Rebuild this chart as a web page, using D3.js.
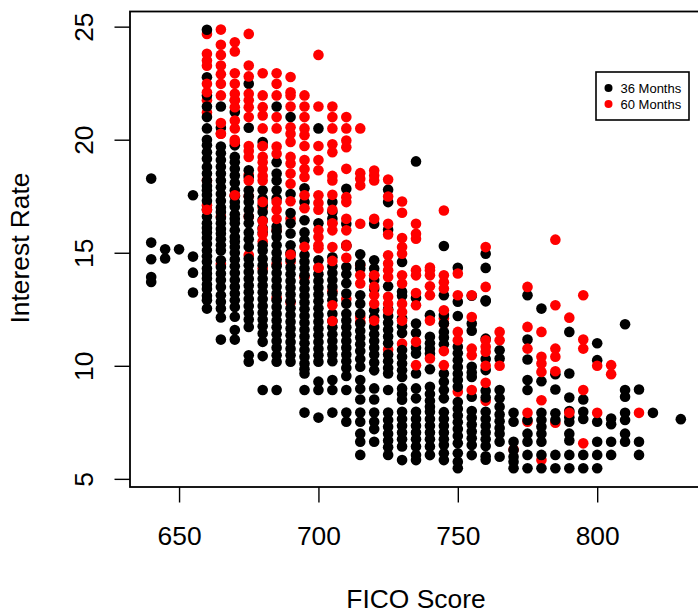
<!DOCTYPE html>
<html>
<head>
<meta charset="utf-8">
<script src="https://cdn.jsdelivr.net/npm/d3@7"></script>
<style>
	html, body { margin: 0; padding: 0; background: #fff; overflow: hidden; }
	text { font-family: "Liberation Sans", Arial, sans-serif; fill: #000; }
</style>
</head>
<body>
<div id="chart"></div>
<script>
// FICO score values, one per column of dots
const ficoScores = [640, 645, 650, 655, 660, 665, 670, 675, 680, 685, 690, 695, 700, 705, 710, 715, 720, 725, 730, 735, 740, 745, 750, 755, 760, 765, 770, 775, 780, 785, 790, 795, 800, 805, 810, 815, 820, 830]

// Interest rates of the 36 month loans, per FICO column
const rates36 = [
	[18.28, 15.45, 14.71, 13.93, 13.71],
	[15.15, 14.75],
	[15.15],
	[17.54, 14.83, 14.12, 13.24],
	[24.86, 22.76, 21.96, 21.47, 21.0, 20.5, 20.0, 19.75, 19.45, 19.16, 18.79, 18.5, 18.2, 17.95, 17.76, 17.55, 17.3, 16.9, 16.6, 16.3, 16.1, 15.9, 15.65, 15.4, 15.1, 14.85, 14.6, 14.3, 14.08, 13.86, 13.6, 13.4, 13.1, 12.9, 12.53],
	[21.47, 20.53, 19.7, 19.4, 19.1, 18.8, 18.5, 18.2, 17.9, 17.6, 17.3, 17.0, 16.8, 16.55, 16.3, 16.05, 15.85, 15.6, 15.33, 15.1, 14.67, 14.37, 14.08, 13.79, 13.49, 13.12, 12.83, 12.53, 12.14, 11.16],
	[21.22, 19.75, 19.24, 19.0, 18.72, 18.42, 18.1, 17.76, 17.5, 17.25, 17.03, 16.7, 16.5, 16.3, 16.0, 15.7, 15.5, 15.26, 15.0, 14.7, 14.4, 14.1, 13.8, 13.5, 13.2, 12.9, 12.6, 12.17, 11.58, 11.16],
	[22.47, 20.53, 18.65, 18.35, 17.76, 17.5, 17.25, 16.9, 16.6, 16.3, 15.9, 15.6, 15.26, 14.74, 14.45, 14.15, 13.85, 13.55, 13.25, 12.95, 12.65, 12.35, 12.05, 11.72, 10.47, 10.18],
	[19.9, 17.76, 17.4, 17.1, 16.8, 16.45, 16.1, 15.9, 15.33, 15.1, 14.74, 14.45, 14.15, 13.85, 13.55, 13.25, 12.95, 12.65, 12.35, 12.05, 11.75, 11.43, 11.06, 10.43, 8.93],
	[21.47, 19.0, 18.5, 18.2, 17.76, 17.4, 16.15, 15.95, 15.7, 15.33, 15.0, 14.7, 14.4, 14.1, 13.8, 13.5, 13.2, 12.9, 12.6, 12.3, 12.0, 11.7, 11.4, 11.1, 10.8, 10.47, 10.18, 8.93],
	[21.0, 17.6, 16.76, 16.3, 15.85, 15.33, 15.0, 14.7, 14.35, 14.05, 13.75, 13.45, 13.15, 12.85, 12.55, 12.25, 11.95, 11.65, 11.35, 11.05, 10.75, 10.47, 10.18],
	[17.85, 17.25, 16.44, 15.9, 15.55, 14.9, 14.6, 14.3, 14.0, 13.7, 13.4, 13.1, 12.8, 12.5, 12.2, 11.9, 11.6, 11.3, 11.0, 10.7, 10.4, 10.1, 9.85, 9.66, 8.93, 7.93],
	[20.5, 16.3, 14.67, 14.05, 13.75, 13.45, 13.15, 12.85, 12.55, 12.25, 11.95, 11.65, 11.35, 11.05, 10.75, 10.47, 10.18, 9.3, 8.93, 7.71],
	[17.24, 16.8, 16.5, 14.8, 14.4, 14.1, 13.8, 13.5, 13.2, 12.9, 12.3, 11.98, 11.7, 11.4, 11.1, 10.8, 10.5, 10.2, 9.37, 8.93, 7.93],
	[17.83, 16.28, 15.3, 14.37, 14.05, 13.65, 13.2, 12.75, 12.3, 12.0, 11.7, 11.4, 11.1, 10.8, 10.5, 10.2, 9.9, 9.55, 8.93, 7.93, 7.53],
	[14.93, 14.5, 14.3, 13.12, 12.75, 12.3, 11.87, 11.55, 11.25, 10.95, 10.65, 10.3, 9.96, 9.37, 8.99, 8.51, 7.93, 7.53, 7.0, 6.64, 6.06],
	[16.28, 14.67, 14.3, 13.8, 13.4, 12.46, 12.15, 11.72, 11.4, 11.1, 10.8, 10.5, 10.15, 9.8, 9.0, 8.51, 7.93, 7.53, 7.2, 6.64],
	[17.79, 17.24, 16.02, 13.52, 12.5, 12.2, 11.9, 11.6, 11.3, 11.0, 10.5, 10.2, 9.9, 9.66, 8.93, 7.93, 7.6, 7.3, 7.0, 6.7, 6.4, 6.06],
	[14.59, 13.27, 13.1, 12.1, 11.75, 11.45, 10.7, 10.4, 10.1, 9.8, 9.51, 9.0, 8.75, 8.5, 7.97, 7.65, 7.35, 7.05, 6.75, 6.43, 5.83],
	[19.04, 13.0, 11.87, 11.45, 10.8, 10.54, 9.66, 9.0, 8.56, 7.97, 7.65, 7.35, 7.05, 6.75, 6.43, 6.05, 5.83],
	[12.24, 11.28, 11.0, 10.75, 10.54, 9.85, 9.07, 8.75, 8.45, 8.19, 7.97, 7.65, 7.35, 7.05, 6.75, 6.43, 6.05],
	[15.3, 13.12, 12.25, 11.87, 11.5, 11.25, 10.95, 9.66, 9.29, 8.93, 8.56, 7.95, 7.65, 7.35, 7.05, 6.75, 6.5, 6.13, 5.83],
	[14.34, 12.83, 12.2, 10.84, 10.55, 10.25, 9.95, 9.65, 9.37, 9.07, 8.4, 8.1, 7.8, 7.5, 7.2, 6.9, 6.57, 6.13, 5.76, 5.47],
	[13.1, 11.87, 11.55, 9.96, 9.7, 9.51, 8.63, 8.0, 7.7, 7.4, 7.1, 6.8, 6.5, 6.05],
	[14.96, 14.33, 12.9, 12.85, 11.2, 10.3, 9.81, 8.9, 8.6, 7.97, 7.65, 7.35, 7.05, 6.75, 6.45, 6.0, 5.85],
	[10.69, 10.32, 8.93, 8.56, 8.19, 7.85, 7.55, 7.25, 7.0, 6.64, 5.98],
	[7.92, 7.53, 6.64, 6.28, 5.98, 5.76, 5.47],
	[13.12, 11.16, 10.28, 9.37, 8.93, 7.6, 7.0, 6.64, 6.06, 5.47],
	[12.53, 9.32, 7.92, 7.6, 7.3, 7.0, 6.64, 6.06, 5.47],
	[9.63, 8.95, 7.9, 7.6, 6.06, 5.47],
	[11.5, 9.66, 8.6, 8.0, 7.72, 7.53, 7.0, 6.7, 6.06, 5.47],
	[8.51, 7.97, 7.65, 6.06, 5.47],
	[11.0, 10.25, 7.53, 6.64, 6.06, 5.47],
	[7.67, 7.42, 6.64, 6.06],
	[11.84, 8.93, 8.63, 7.92, 7.6, 7.0, 6.64],
	[8.95, 6.64, 6.06],
	[7.92],
	[7.64]
]

// 60 month loans drawn underneath the black dots
const rates60Back = [
	[], [], [], [],
	[24.68, 21.75, 21.2, 18.2, 17.1],
	[20.26, 16.6, 14.5],
	[17.54, 21.74, 20.0],
	[14.9, 17.5, 18.45, 19.5, 16.6],
	[19.72, 17.0, 15.5, 14.3],
	[16.0, 14.5, 13.0],
	[16.5, 14.92, 14.6, 12.8],
	[13.93],
	[14.34],
	[16.3, 13.3],
	[12.95, 15.35],
	[14.45, 12.16, 11.94],
	[14.0],
	[10.72],
	[10.98],
	[],
	[14.35],
	[11.87, 12.1],
	[8.85],
	[],
	[8.45],
	[], [6.3], [7.53], [5.83], [7.48], [], [], [], [], [], [], [], []
]

// 60 month loans drawn on top
const rates60Front = [
	[], [], [], [],
	[23.8, 23.5, 23.27, 22.47, 22.1, 16.9],
	[24.87, 24.2, 23.75, 23.28, 22.9, 22.47, 21.96, 20.74, 20.26],
	[24.31, 23.9, 22.94, 22.47, 22.03, 21.74, 21.44, 20.85, 20.5, 19.9, 17.54],
	[24.68, 23.28, 22.8, 22.03, 21.74, 21.44, 21.0, 19.72, 19.24, 18.2],
	[22.94, 21.96, 21.44, 21.07, 20.5, 19.72, 19.24, 19.0, 18.7, 18.4, 18.2, 17.25, 16.4, 16.05, 15.82],
	[22.94, 22.47, 21.96, 21.0, 20.5, 19.7, 19.38, 17.25, 16.9, 16.5],
	[22.77, 22.1, 21.96, 21.47, 20.55, 20.26, 19.9, 19.24, 18.95, 18.5, 18.05, 17.28, 14.92],
	[21.96, 21.47, 21.0, 20.5, 20.2, 19.72, 19.1, 18.7, 18.35, 17.54, 16.97, 15.26],
	[23.75, 21.47, 19.72, 19.1, 18.65, 17.54, 17.2, 16.9, 16.0, 15.7, 15.33, 15.2, 14.34],
	[21.47, 21.0, 20.5, 19.8, 19.45, 18.4, 18.2, 17.56, 16.9, 16.3, 15.99, 15.25, 14.64, 12.68, 11.98],
	[21.0, 20.5, 19.96, 19.67, 18.71, 17.46, 17.24, 16.5, 15.99, 15.3, 14.78],
	[20.5, 18.52, 18.27, 17.98, 16.28, 14.0, 13.64],
	[18.64, 18.42, 18.2, 16.5, 14.0, 13.5, 13.12, 12.75, 12.0],
	[18.24, 17.49, 16.28, 15.81, 14.89, 14.52, 14.23, 13.93, 13.05, 12.75, 12.45],
	[17.27, 16.77, 15.65, 15.25, 14.96, 14.0, 13.64, 12.75, 12.38, 12.0],
	[16.28, 15.84, 15.62, 14.23, 14.0, 13.22, 12.68, 11.06, 10.03],
	[14.23, 14.0, 13.52, 13.12, 12.0, 10.32],
	[16.87, 14.0, 13.7, 13.42, 12.46, 10.65, 10.03],
	[14.08, 13.12, 11.5, 11.13],
	[13.12, 12.16, 10.76, 10.47, 8.93],
	[15.25, 13.49, 11.13, 10.84, 10.62, 10.0, 9.25],
	[11.5, 11.13, 10.0],
	[],
	[13.49, 11.72, 10.76, 7.92],
	[11.5, 10.4, 10.1, 9.73, 8.48],
	[15.58, 12.68, 10.76, 10.4, 9.76],
	[12.13, 7.92],
	[13.12, 11.16, 10.76, 8.93, 6.57],
	[10.0, 7.92],
	[10.03, 9.63],
	[],
	[7.92],
	[],
	[]
]

const legendLabels = ['36 Months', '60 Months']
const legendColors = ['#000000', '#ff0000']
const xTicks = [650, 700, 750, 800]
const yTicks = [5, 10, 15, 20, 25]

const svgWidth = 698
const svgHeight = 613
const margin = { top: 11.5, right: -4, bottom: 126, left: 130 }
const height = svgHeight - margin.top - margin.bottom
const width = svgWidth - margin.left - margin.right

const svg = d3
	.select('#chart')
	.append('svg')
	.attr('width', svgWidth)
	.attr('height', svgHeight)
	.style('display', 'block')

const plot = svg
	.append('g')
	.attr('transform', `translate(${margin.left},${margin.top})`)

const x = d3.scaleLinear().domain([632.4, 837.6]).range([0, width])
const y = d3.scaleLinear().domain([4.64, 25.67]).range([height, 0])

// Turn one of the per-column lists into dots
function drawDots(rates, color) {
	const points = rates.flatMap((col, i) =>
		col.map((rate) => ({ fico: ficoScores[i], rate }))
	)
	plot
		.append('g')
		.selectAll('circle')
		.data(points)
		.enter()
		.append('circle')
		.attr('cx', (d) => x(d.fico))
		.attr('cy', (d) => y(d.rate))
		.attr('r', 5.3)
		.attr('fill', color)
}

drawDots(rates60Back, legendColors[1])
drawDots(rates36, legendColors[0])
drawDots(rates60Front, legendColors[1])

// Axes
const xAxis = plot
	.append('g')
	.attr('transform', `translate(0,${height})`)
	.call(
		d3.axisBottom(x).tickValues(xTicks).tickFormat(d3.format('d')).tickSize(15.5).tickPadding(24)
	)
xAxis.select('.domain').remove()
xAxis.selectAll('line').attr('stroke', '#000').attr('stroke-width', 1.4)
xAxis.selectAll('text').style('font-size', '26.4px').attr('fill', '#000')

const yAxis = plot
	.append('g')
	.call(d3.axisLeft(y).tickValues(yTicks).tickFormat(d3.format('d')).tickSize(15.5))
yAxis.select('.domain').remove()
yAxis.selectAll('line').attr('stroke', '#000').attr('stroke-width', 1.4)
yAxis
	.selectAll('text')
	.attr('x', 0)
	.attr('y', 0)
	.attr('dy', 0)
	.attr('text-anchor', 'middle')
	.attr('transform', 'translate(-37,0) rotate(-90)')
	.style('font-size', '26.4px')
	.attr('fill', '#000')

// Plot frame runs past the right edge of the picture, same as the reference
plot
	.append('rect')
	.attr('width', width)
	.attr('height', height)
	.attr('fill', 'none')
	.attr('stroke', '#000')
	.attr('stroke-width', 1.8)

svg
	.append('text')
	.attr('x', 416)
	.attr('y', 607.5)
	.attr('text-anchor', 'middle')
	.style('font-size', '26.4px')
	.text('FICO Score')

svg
	.append('text')
	.attr('transform', 'translate(29,248) rotate(-90)')
	.attr('text-anchor', 'middle')
	.style('font-size', '26.4px')
	.text('Interest Rate')

// Legend
const legend = svg.append('g').attr('transform', 'translate(596,72)')
legend
	.append('rect')
	.attr('width', 93)
	.attr('height', 48)
	.attr('fill', '#fff')
	.attr('stroke', '#000')
	.attr('stroke-width', 1.6)

legend
	.selectAll('circle')
	.data(legendLabels)
	.enter()
	.append('circle')
	.attr('cx', 12.5)
	.attr('cy', (d, i) => 16 + i * 16)
	.attr('r', 4)
	.attr('fill', (d, i) => legendColors[i])

legend
	.selectAll('text')
	.data(legendLabels)
	.enter()
	.append('text')
	.attr('x', 24.5)
	.attr('y', (d, i) => 21 + i * 16)
	.style('font-size', '13px')
	.text((d) => d)
</script>
</body>
</html>
